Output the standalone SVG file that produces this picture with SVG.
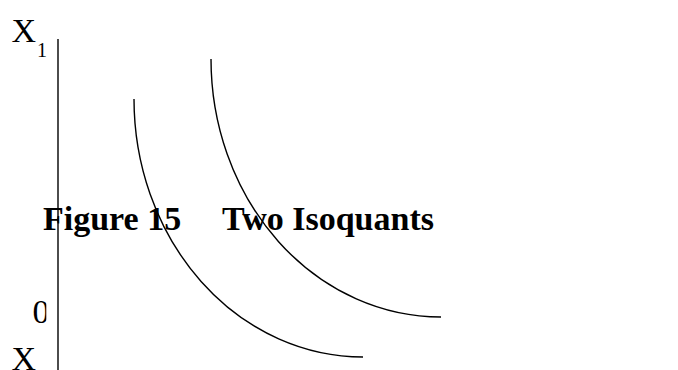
<svg xmlns="http://www.w3.org/2000/svg" width="678" height="370" viewBox="0 0 678 370">
<style>
.t{font-family:"Liberation Serif","Times New Roman",serif;fill:#000}
.c{fill:none;stroke:#000;stroke-width:1.4}
</style>
<defs>
<clipPath id="clip0"><rect x="0" y="280" width="46.3" height="60"/></clipPath>
</defs>
<rect width="678" height="370" fill="#fff"/>
<g id="axis"><line class="c" x1="58" y1="39" x2="58" y2="370"/></g>
<g id="labels">
<text class="t" x="11.5" y="42" font-size="34">X</text>
<text class="t" x="37" y="57" font-size="20">1</text>
<text class="t" x="32.5" y="323" font-size="34" clip-path="url(#clip0)">0</text>
<text class="t" x="11.5" y="370" font-size="34">X</text>
</g>
<g id="title">
<text class="t" x="43" y="230" font-size="34" font-weight="bold">Figure 15</text>
<text class="t" x="222" y="230" font-size="34" font-weight="bold">Two Isoquants</text>
</g>
<g id="connectors">
<path id="isoquant1" class="c" d="M134,99 A229,258 0 0 0 363,357"/>
<path id="isoquant2" class="c" d="M211,59 A230,258 0 0 0 441,317"/>
</g>
</svg>
